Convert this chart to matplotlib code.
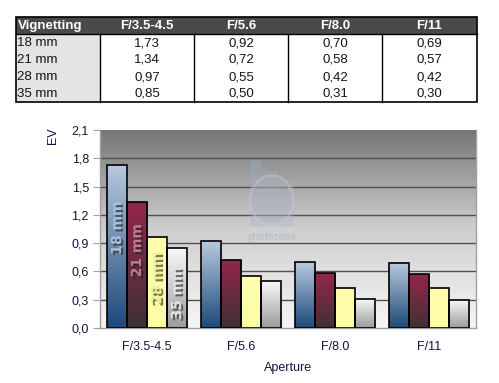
#!/usr/bin/env python3
"""Vignetting table + grouped bar chart (EV vs aperture)."""

import matplotlib

matplotlib.use("Agg")
import matplotlib.patheffects as pe
import matplotlib.pyplot as plt
import numpy as np
from matplotlib.colors import LinearSegmentedColormap
from matplotlib.patches import Ellipse, Rectangle

plt.rcParams["font.family"] = ["Liberation Sans", "DejaVu Sans"]

apertures = ["F/3.5-4.5", "F/5.6", "F/8.0", "F/11"]
focal_lengths = ["18 mm", "21 mm", "28 mm", "35 mm"]
vignetting = {
    "18 mm": [1.73, 0.92, 0.70, 0.69],
    "21 mm": [1.34, 0.72, 0.58, 0.57],
    "28 mm": [0.97, 0.55, 0.42, 0.42],
    "35 mm": [0.85, 0.50, 0.31, 0.30],
}
y_ticks = [0.0, 0.3, 0.6, 0.9, 1.2, 1.5, 1.8, 2.1]

# (top colour, bottom colour) of each series gradient, and the in-bar label colour
BAR_GRAD = {
    "18 mm": ("#b7c9de", "#1d4a7a"),
    "21 mm": ("#952649", "#3f3134"),
    "28 mm": ("#ffffae", "#fdfda4"),
    "35 mm": ("#fafafa", "#9c9c9c"),
}
LABEL_COLOR = {"18 mm": "#a9c0da", "21 mm": "#c27a93", "28 mm": "#eeee9a", "35 mm": "#e2e2e2"}
LABEL_Y = {"18 mm": 1.06, "21 mm": 0.82, "28 mm": 0.53, "35 mm": 0.37}  # label centres

W, H = 499, 383
fig = plt.figure(figsize=(W / 100, H / 100), dpi=100)

# ---- table drawn in pixel coordinates on an overlay axes
tab = fig.add_axes([0, 0, 1, 1])
tab.set_xlim(0, W)
tab.set_ylim(H, 0)
tab.axis("off")
col_x = [16, 100, 194, 288, 382, 477]
row_y = [17, 34, 51, 68, 85, 102]
tab.add_patch(Rectangle((col_x[0], row_y[0]), col_x[-1] - col_x[0], row_y[1] - row_y[0],
                        facecolor="#4a4a4a", edgecolor="none"))
tab.add_patch(Rectangle((col_x[0], row_y[1]), col_x[1] - col_x[0], row_y[-1] - row_y[1],
                        facecolor="#e4e4e4", edgecolor="none"))
tab.add_patch(Rectangle((col_x[0], row_y[0]), col_x[-1] - col_x[0], row_y[-1] - row_y[0],
                        facecolor="none", edgecolor="black", lw=1.2))
for x in col_x[1:-1]:
    tab.plot([x, x], [row_y[1], row_y[-1]], color="black", lw=1.0)
tab.plot([col_x[0], col_x[-1]], [row_y[1], row_y[1]], color="black", lw=1.0)

tab.text(col_x[0] + 2, (row_y[0] + row_y[1]) / 2 + 0.5, "Vignetting", color="white",
         fontsize=9.5, fontweight="bold", ha="left", va="center")
for j, ap in enumerate(apertures):
    cx = (col_x[j + 1] + col_x[j + 2]) / 2
    tab.text(cx, (row_y[0] + row_y[1]) / 2 + 0.5, ap, color="white",
             fontsize=9.5, fontweight="bold", ha="center", va="center")
for i, fl in enumerate(focal_lengths):
    cy = (row_y[i + 1] + row_y[i + 2]) / 2 + 0.5
    tab.text(col_x[0] + 1, cy, fl, color="#1a1020", fontsize=9.5, ha="left", va="center")
    for j, v in enumerate(vignetting[fl]):
        cx = (col_x[j + 1] + col_x[j + 2]) / 2
        tab.text(cx, cy, f"{v:.2f}".replace(".", ","), color="#1a1020",
                 fontsize=9.5, ha="center", va="center")

# ---- bar chart
ax = fig.add_axes([100 / W, 1 - 328 / H, 376 / W, 198 / H])
ax.set_xlim(-0.5, len(apertures) - 0.5)
ax.set_ylim(0, 2.1)

bg = LinearSegmentedColormap.from_list("bg", ["#f6f6f6", "#cfcfcf", "#767676"])
ax.imshow(np.linspace(0, 1, 256).reshape(-1, 1), cmap=bg, origin="lower", aspect="auto",
          extent=[-0.5, len(apertures) - 0.5, 0, 2.1], zorder=0)
for t in y_ticks[1:-1]:
    ax.axhline(t, color="#505050", lw=1.0, zorder=1)

# faint photozone watermark
wm = dict(transform=ax.transAxes, facecolor="#9fb0c6", edgecolor="none", alpha=0.3, zorder=2)
ax.add_patch(Rectangle((0.399, 0.515), 0.032, 0.333, **wm))
ax.add_patch(Rectangle((0.431, 0.515), 0.042, 0.278, **wm))
ax.add_patch(Rectangle((0.473, 0.515), 0.043, 0.217, **wm))
ax.add_patch(Ellipse((0.457, 0.645), 0.115, 0.25, transform=ax.transAxes, facecolor="#b0b4b8",
                     edgecolor="#d4d4d4", lw=2.0, alpha=0.3, zorder=2))
ax.text(0.457, 0.46, "photozone", transform=ax.transAxes, fontsize=7, fontweight="bold",
        color="#9fb0c6", alpha=0.45, ha="center", va="center", zorder=2)

x = np.arange(len(apertures))
width = 0.213
n = len(focal_lengths)
shadow = [pe.withSimplePatchShadow(offset=(1.5, -1.5), shadow_rgbFace="#202020", alpha=0.6)]
for k, fl in enumerate(focal_lengths):
    offs = (k - (n - 1) / 2) * width
    bars = ax.bar(x + offs, vignetting[fl], width, facecolor="none", edgecolor="black",
                  lw=1.2, zorder=4)
    cmap = LinearSegmentedColormap.from_list(fl, [BAR_GRAD[fl][1], BAR_GRAD[fl][0]])
    for b in bars:
        x0, h = b.get_x(), b.get_height()
        im = ax.imshow(np.linspace(0, 1, 64).reshape(-1, 1), cmap=cmap, origin="lower",
                       aspect="auto", extent=[x0, x0 + b.get_width(), 0, h], zorder=3)
        im.set_clip_path(b)
    b0 = bars[0]
    cx = b0.get_x() + b0.get_width() / 2
    ax.text(cx, LABEL_Y[fl], fl, rotation=90, fontsize=10, fontweight="bold",
            family="DejaVu Sans", color=LABEL_COLOR[fl], ha="center", va="center",
            zorder=6, path_effects=shadow)

ax.set_xlim(-0.5, len(apertures) - 0.5)
ax.set_ylim(0, 2.1)
ax.set_yticks(y_ticks)
ax.set_yticklabels([f"{t:.1f}".replace(".", ",") for t in y_ticks])
ax.set_xticks(x)
ax.set_xticklabels(apertures)
ax.tick_params(axis="y", length=5, color="#a0a0a0", labelsize=9, labelcolor="#1a1040", pad=3)
ax.tick_params(axis="x", length=0, labelsize=9, labelcolor="#1a1040", pad=9)
ax.spines["top"].set_visible(False)
for side in ("left", "bottom", "right"):
    ax.spines[side].set_color("#a0a0a0")
    ax.spines[side].set_linewidth(1.0)

fig.text(53 / W, 1 - 136 / H, "EV", rotation=90, fontsize=9, color="#1a1040",
         ha="center", va="center")
fig.text(288 / W, 1 - 368 / H, "Aperture", fontsize=9, color="#1a1040",
         ha="center", va="center")

fig.savefig("out.png", dpi=100, facecolor="white")
